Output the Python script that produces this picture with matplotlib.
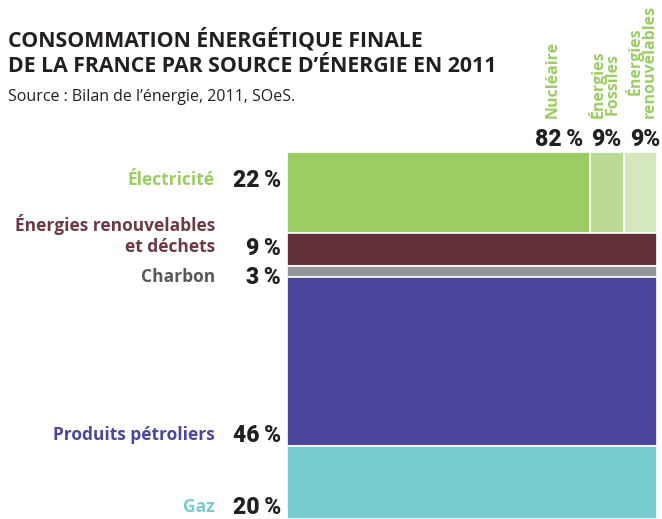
import matplotlib
matplotlib.use("Agg")
import matplotlib.pyplot as plt
from matplotlib.transforms import blended_transform_factory

plt.rcParams['font.family'] = ['Open Sans', 'DejaVu Sans']

# ******** data ********
categories = ['Électricité', 'Énergies renouvelables\net déchets', 'Charbon',
              'Produits pétroliers', 'Gaz']
shares = [22, 9, 3, 46, 20]
elec_sources = ['Nucléaire', 'Énergies\nFossiles', 'Énergies\nrenouvelables']
elec_shares = [82, 9, 9]
elec_pct_labels = ['82\u2009%', '9%', '9%']

# ******** style ********
cat_colors = ['#9ccd63', '#633239', '#939598', '#4a479c', '#78cbcf']
label_colors = ['#9ccd63', '#6b3a44', '#58595b', '#4a479c', '#78cbcf']
elec_colors = ['#9ccd63', '#b9d995', '#d5e7bd']
label_pos = [0.35, 0.47, 1.03, 0.94, 0.84]  # where the label sits inside its segment
dark = '#231f20'
pct_font = dict(family=['Roboto', 'DejaVu Sans'], fontweight='black', fontsize=16.5, color=dark)

W, H = 662, 519
fig = plt.figure(figsize=(W / 100, H / 100), dpi=100)
ax = fig.add_axes([287 / W, 0, 370 / W, 367 / H])

bottoms = [sum(shares[:i]) for i in range(len(shares))]
for i, (cat, val) in enumerate(zip(categories, shares)):
    if i == 0:
        # electricity split by production source
        left = 0
        for sval, col in zip(elec_shares, elec_colors):
            ax.bar(left / 100, val, width=sval / 100, bottom=bottoms[i], align='edge',
                   color=col, edgecolor='white', linewidth=1.2)
            left += sval
    else:
        ax.bar(0, val, width=1, bottom=bottoms[i], align='edge',
               color=cat_colors[i], edgecolor='white', linewidth=1.2)

ax.set_xlim(0, 1)
ax.set_ylim(100, 0)
ax.axis('off')

trans = blended_transform_factory(ax.transAxes, ax.transData)
for i, (cat, val) in enumerate(zip(categories, shares)):
    y = bottoms[i] + val * label_pos[i]
    if i == 1:
        ax.text(-0.195, y + 2.2, cat, transform=trans, ha='right', va='bottom', ma='right',
                fontsize=12.5, fontweight='bold', color=label_colors[i], linespacing=1.25,
                clip_on=False)
    else:
        ax.text(-0.195, y, cat, transform=trans, ha='right', va='center',
                fontsize=12.5, fontweight='bold', color=label_colors[i], clip_on=False)
    ax.text(-0.016, y, f'{val}\u2009%', transform=trans, ha='right', va='center',
            clip_on=False, **pct_font)

# labels above the electricity bar
trans_top = blended_transform_factory(ax.transData, ax.transAxes)
ends = [sum(elec_shares[:i + 1]) / 100 for i in range(len(elec_shares))]
pct_x = [ends[0] - 0.02, ends[1] - 0.005, ends[2] + 0.01]
name_x = [0.719, 0.857, 0.957]
for i, (name, lab) in enumerate(zip(elec_sources, elec_pct_labels)):
    ax.text(pct_x[i], 1.016, lab, transform=trans_top, ha='right', va='baseline',
            clip_on=False, **pct_font)
    ax.text(name_x[i], 1.093, name, transform=trans_top, ha='center', va='bottom',
            rotation=90, fontsize=11.5, fontweight='bold', color='#9ccd63',
            linespacing=0.9, clip_on=False)

fig.text(8 / W, 1 - 72 / H, 'CONSOMMATION ÉNERGÉTIQUE FINALE\nDE LA FRANCE PAR SOURCE D’ÉNERGIE EN 2011',
         ha='left', va='baseline', fontsize=15.3, fontweight='bold', color=dark, linespacing=1.3)
fig.text(8 / W, 1 - 101 / H, 'Source : Bilan de l’énergie, 2011, SOeS.',
         ha='left', va='baseline', fontsize=11.5, color=dark)

fig.savefig('out.png', dpi=100)
